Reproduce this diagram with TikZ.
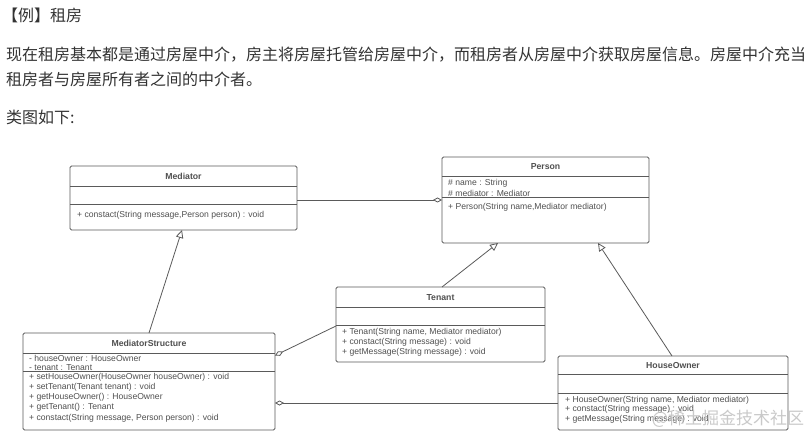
\documentclass[tikz,border=0pt]{standalone}
\usepackage{fontspec}
\setmainfont{Liberation Sans}
\newfontfamily\cjk{Noto Sans CJK SC}
\usetikzlibrary{arrows.meta}
\definecolor{boxc}{HTML}{5A5A5A}
\definecolor{txtc}{HTML}{333333}
\definecolor{memc}{HTML}{505050}
\definecolor{wmc}{HTML}{C4C4C4}
\begin{document}
\begin{tikzpicture}[x=1pt,y=-1pt,
  cls/.style={draw=boxc, line width=0.8pt, rounded corners=1.5pt, fill=white, anchor=north west, inner sep=0pt, outer sep=0pt},
  divl/.style={draw=boxc, line width=0.8pt},
  hdr/.style={font=\fontsize{8.7}{10}\selectfont\bfseries, text=memc, inner sep=0pt},
  mem/.style={font=\fontsize{8.6}{10}\selectfont, text=memc, anchor=west, inner sep=0pt},
  para/.style={font=\cjk\fontsize{16}{18}\selectfont, text=txtc, anchor=west, inner sep=0pt},
  gen/.style={draw=boxc, line width=0.8pt, -{Triangle[open, length=8pt, width=7.5pt]}},
  agg/.style={draw=boxc, line width=0.8pt, -{Diamond[open, length=9pt, width=5pt]}}
]
\useasboundingbox (0,0) rectangle (810,438);
\fill[white] (0,0) rectangle (810,438);

% text
\node[para] (title) at (2,15) {【例】租房};
\node[para] (l1) at (6,55) {现在租房基本都是通过房屋中介，房主将房屋托管给房屋中介，而租房者从房屋中介获取房屋信息。房屋中介充当};
\node[para] (l2) at (6,79) {租房者与房屋所有者之间的中介者。};
\node[para] (l3) at (6,117) {类图如下:};

% Mediator
\node[cls, minimum width=227pt, minimum height=64pt] (med) at (70,166) {};
\draw[divl] (med.west |- 0,186) -- (med.east |- 0,186);
\draw[divl] (med.west |- 0,204) -- (med.east |- 0,204);
\node[hdr] (medh) at (183.5,176.5) {Mediator};
\node[mem] (medm1) at (77,215.5) {+ constact(String message,Person person) : void};

% Person
\node[cls, minimum width=207pt, minimum height=86pt] (per) at (442,157) {};
\draw[divl] (per.west |- 0,176) -- (per.east |- 0,176);
\draw[divl] (per.west |- 0,197) -- (per.east |- 0,197);
\node[hdr] (perh) at (545.5,167) {Person};
\node[mem] (pera1) at (448,183) {\# name : String};
\node[mem] (pera2) at (448,193) {\# mediator : Mediator};
\node[mem] (perm1) at (448,207.5) {+ Person(String name,Mediator mediator)};

% Tenant
\node[cls, minimum width=209pt, minimum height=75pt] (ten) at (336,287) {};
\draw[divl] (ten.west |- 0,307) -- (ten.east |- 0,307);
\draw[divl] (ten.west |- 0,325) -- (ten.east |- 0,325);
\node[hdr] (tenh) at (440.5,297.5) {Tenant};
\node[mem] (tenm1) at (342,332) {+ Tenant(String name, Mediator mediator)};
\node[mem] (tenm2) at (342,342) {+ constact(String message) : void};
\node[mem] (tenm3) at (342,352) {+ getMessage(String message) : void};

% MediatorStructure
\node[cls, minimum width=252pt, minimum height=97pt] (ms) at (23,333) {};
\draw[divl] (ms.west |- 0,353) -- (ms.east |- 0,353);
\draw[divl] (ms.west |- 0,371) -- (ms.east |- 0,371);
\node[hdr] (msh) at (149,343.5) {MediatorStructure};
\node[mem] (msa1) at (29,358) {- houseOwner : HouseOwner};
\node[mem] (msa2) at (29,367.5) {- tenant : Tenant};
\node[mem] (msm1) at (29,377) {+ setHouseOwner(HouseOwner houseOwner) : void};
\node[mem] (msm2) at (29,387.5) {+ setTenant(Tenant tenant) : void};
\node[mem] (msm3) at (29,397.5) {+ getHouseOwner() : HouseOwner};
\node[mem] (msm4) at (29,407.5) {+ getTenant() : Tenant};
\node[mem] (msm5) at (29,418) {+ constact(String message, Person person) : void};

% HouseOwner
\node[cls, minimum width=230pt, minimum height=74pt] (ho) at (558,356) {};
\draw[divl] (ho.west |- 0,374) -- (ho.east |- 0,374);
\draw[divl] (ho.west |- 0,393) -- (ho.east |- 0,393);
\node[hdr] (hoh) at (673,365.5) {HouseOwner};
\node[mem] (hom1) at (565,400) {+ HouseOwner(String name, Mediator mediator)};
\node[mem] (hom2) at (565,409.5) {+ constact(String message) : void};
\node[mem] (hom3) at (565,419) {+ getMessage(String message) : void};

% connectors
\draw[agg] (med.east |- 0,200) -- (per.west |- 0,200);
\draw[gen] (149,0 |- ms.north) -- (182,0 |- med.south);
\draw[gen] (442,0 |- ten.north) -- (498,0 |- per.south);
\draw[agg] (ten.west |- 0,326) -- (ms.east |- 0,355.5);
\draw[gen] (672,0 |- ho.north) -- (598,0 |- per.south);
\draw[agg] (ho.west |- 0,403) -- (ms.east |- 0,403);

% watermark
\node[font=\cjk\fontsize{17}{20}\selectfont, text=wmc, opacity=0.9, inner sep=0pt] (wm) at (728,419) {@稀土掘金技术社区};
\end{tikzpicture}
\end{document}
